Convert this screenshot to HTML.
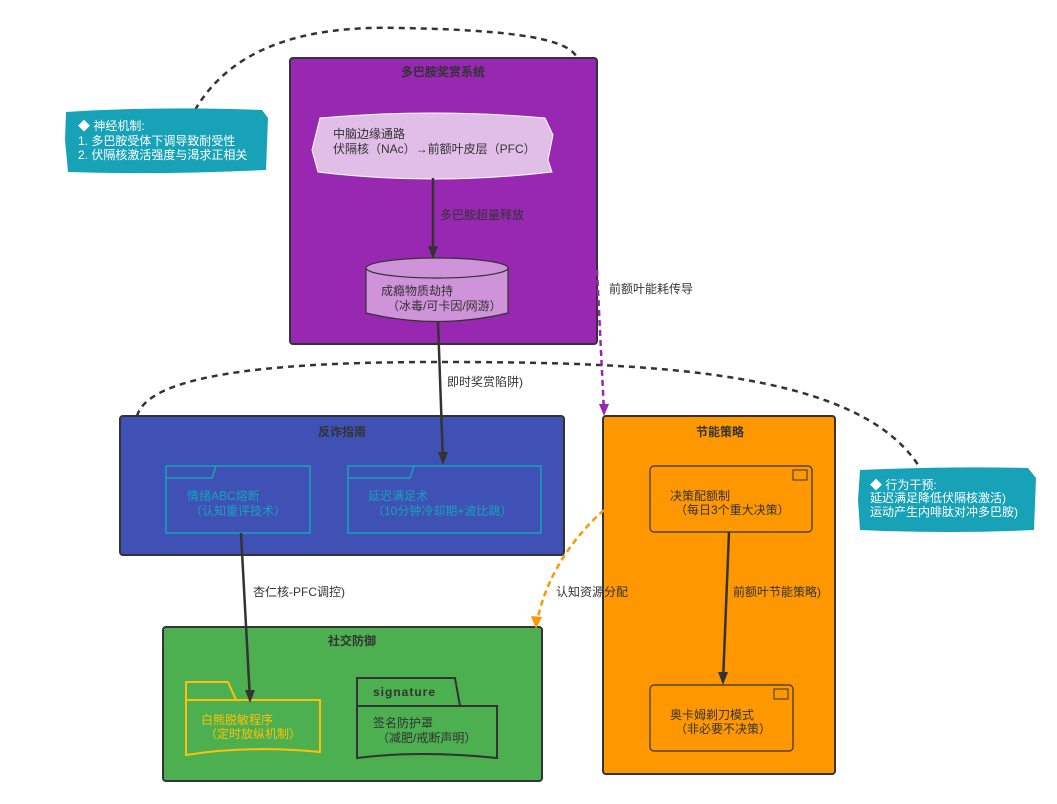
<!DOCTYPE html>
<html><head><meta charset="utf-8"><style>
html,body{margin:0;padding:0;background:#fff;}
svg{display:block;}
text{font-family:"Liberation Sans","Noto Sans CJK SC",sans-serif;font-size:12px;}
</style></head><body>
<svg width="1057" height="804" viewBox="0 0 1057 804" xmlns="http://www.w3.org/2000/svg">
<!-- dashed note connectors -->
<path d="M195,110 C230,50 300,25 400,28 C520,30 570,40 577,58" fill="none" stroke="#333" stroke-width="2.5" stroke-dasharray="6,5"/>
<path d="M137,416 C150,370 300,362 440,362 C650,362 860,370 920,468" fill="none" stroke="#333" stroke-width="2.5" stroke-dasharray="6,5"/>

<!-- purple container -->
<rect x="290" y="58" width="307" height="286" rx="3" fill="#9827b1" stroke="#333" stroke-width="2"/>
<text x="443" y="76" text-anchor="middle" font-weight="bold" fill="#333">多巴胺奖赏系统</text>
<path d="M320,118 Q432,108 545,118 L553,135 L548,160 L552,172 Q432,186 318,172 L312,150 L320,118 Z" fill="#e1bee7" stroke="#fff" stroke-width="1"/>
<text x="333" y="138" fill="#333">中脑边缘通路</text>
<text x="333" y="153" fill="#333">伏隔核（NAc）→前额叶皮层（PFC）</text>
<path d="M366,268 L366,313 Q437,330 508,313 L508,268" fill="#ce93d8" stroke="#333" stroke-width="1.2"/>
<ellipse cx="437" cy="268" rx="71" ry="10" fill="#ce93d8" stroke="#333" stroke-width="1.2"/>
<text x="381" y="295" fill="#333">成瘾物质劫持</text>
<text x="387" y="310" fill="#333">（冰毒/可卡因/网游）</text>

<!-- note1 -->
<path d="M66,112 Q160,106 262,110 L268,118 L266,170 Q160,175 68,172 L65,140 Z" fill="#17a2b8"/>
<text x="78" y="130" fill="#fff">◆ 神经机制:</text>
<text x="78" y="145" fill="#fff">1. 多巴胺受体下调导致耐受性</text>
<text x="78" y="159" fill="#fff">2. 伏隔核激活强度与渴求正相关</text>

<!-- blue container -->
<rect x="120" y="416" width="444" height="139" rx="3" fill="#3f51b5" stroke="#333" stroke-width="2"/>
<text x="342" y="436" text-anchor="middle" font-weight="bold" fill="#333">反诈指南</text>
<path d="M166,466 H310 V533 H166 Z M166,478 H212 L216,466" fill="none" stroke="#17a2b8" stroke-width="1.5"/>
<text x="187" y="500" fill="#17a2b8">情绪ABC熔断</text>
<text x="190" y="515" fill="#17a2b8">（认知重评技术）</text>
<path d="M348,466 H541 V533 H348 Z M348,478 H410 L414,466" fill="none" stroke="#17a2b8" stroke-width="1.5"/>
<text x="368" y="500" fill="#17a2b8">延迟满足术</text>
<text x="372" y="515" fill="#17a2b8">（10分钟冷却期+波比跳）</text>

<!-- green container -->
<rect x="163" y="627" width="379" height="154" rx="3" fill="#4caf50" stroke="#333" stroke-width="2"/>
<text x="352" y="645" text-anchor="middle" font-weight="bold" fill="#333">社交防御</text>
<path d="M186,700 V682 H228 L236,700 H320 V752 Q250,745 186,755 Z M186,700 H236" fill="none" stroke="#ffc107" stroke-width="2"/>
<text x="201" y="724" fill="#ffc107">白熊脱敏程序</text>
<text x="205" y="738" fill="#ffc107">（定时放纵机制）</text>
<path d="M357,706 V678 H455 L460,706 H497 V758 Q420,750 357,758 Z M357,706 H460" fill="none" stroke="#333" stroke-width="2"/>
<text x="373" y="696" fill="#333" font-weight="bold" font-family="Liberation Mono,monospace" font-size="13" letter-spacing="1">signature</text>
<text x="373" y="727" fill="#333">签名防护罩</text>
<text x="377" y="742" fill="#333">（减肥/戒断声明）</text>

<!-- orange container -->
<rect x="603" y="416" width="232" height="358" rx="3" fill="#ff9800" stroke="#333" stroke-width="2"/>
<text x="720" y="436" text-anchor="middle" font-weight="bold" fill="#333">节能策略</text>
<rect x="650" y="466" width="162" height="66" rx="4" fill="none" stroke="#333" stroke-width="1.2"/>
<rect x="793" y="470" width="14" height="10" fill="none" stroke="#333"/>
<text x="670" y="500" fill="#333">决策配额制</text>
<text x="675" y="514" fill="#333">（每日3个重大决策）</text>
<rect x="650" y="685" width="143" height="66" rx="4" fill="none" stroke="#333" stroke-width="1.2"/>
<rect x="774" y="689" width="14" height="10" fill="none" stroke="#333"/>
<text x="670" y="719" fill="#333">奥卡姆剃刀模式</text>
<text x="675" y="733" fill="#333">（非必要不决策）</text>

<!-- note2 -->
<path d="M860,470 Q950,466 1028,468 L1036,478 L1034,530 Q950,534 860,530 L858,500 Z" fill="#17a2b8"/>
<text x="870" y="489" fill="#fff">◆ 行为干预:</text>
<text x="870" y="502" fill="#fff">延迟满足降低伏隔核激活)</text>
<text x="870" y="516" fill="#fff">运动产生内啡肽对冲多巴胺)</text>

<!-- arrows on top -->
<line x1="433" y1="178" x2="433" y2="256" stroke="#333" stroke-width="2.5"/>
<path d="M428,246 L433,259 L438,246 Z" fill="#333"/>
<text x="440" y="219" fill="#333">多巴胺超量释放</text>

<line x1="438" y1="322" x2="443" y2="462" stroke="#333" stroke-width="2.5"/>
<path d="M438,452 L443,465 L448,452 Z" fill="#333"/>
<text x="447" y="386" fill="#333">即时奖赏陷阱)</text>

<path d="M597,270 L604,412" stroke="#9827b1" stroke-width="2.5" stroke-dasharray="6,4" fill="none"/>
<path d="M599,404 L604,416 L609,404 Z" fill="#9827b1"/>
<text x="609" y="293" fill="#333">前额叶能耗传导</text>

<line x1="241" y1="533" x2="250" y2="700" stroke="#333" stroke-width="2.5"/>
<path d="M245,690 L250,703 L255,690 Z" fill="#333"/>
<text x="253" y="596" fill="#333">杏仁核-PFC调控)</text>

<path d="M604,510 C570,540 545,580 537,622" stroke="#ff9800" stroke-width="2.5" stroke-dasharray="6,4" fill="none"/>
<path d="M531,616 L536,629 L542,617 Z" fill="#ff9800"/>
<text x="556" y="596" fill="#333">认知资源分配</text>

<line x1="729" y1="532" x2="723" y2="682" stroke="#333" stroke-width="2.5"/>
<path d="M718,672 L723,685 L728,672 Z" fill="#333"/>
<text x="733" y="596" fill="#333">前额叶节能策略)</text>
</svg>
</body></html>
